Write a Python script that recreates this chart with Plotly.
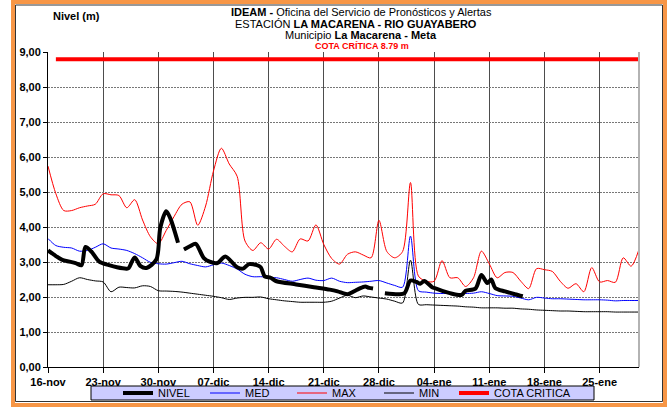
import pandas as pd
import plotly.graph_objects as go

# --- Series data -----------------------------------------------------------
INICIO = pd.Timestamp("2012-11-16")
COTA = 8.79

# daily climatology-type series, one value per day from 16-nov (day 0) to 30-ene (day 75)
dias = list(range(76))
maximo = [5.74, 4.95, 4.47, 4.47, 4.55, 4.60, 4.65, 4.95, 4.92, 4.90,
          4.55, 4.78, 4.20, 3.72, 3.52, 3.90, 4.30, 4.65, 4.72, 4.05,
          4.60, 5.60, 6.25, 5.80, 5.45, 3.60, 3.33, 3.55, 3.37, 3.65,
          3.45, 3.29, 3.66, 3.60, 4.06, 3.50, 3.10, 2.94, 3.22, 3.29,
          3.20, 3.12, 4.19, 3.30, 3.12, 3.30, 5.27, 2.60, 2.45, 2.45,
          3.04, 2.55, 2.55, 2.30, 2.55, 3.31, 2.95, 2.55, 2.70, 2.70,
          2.45, 2.24, 2.81, 2.78, 2.73, 2.45, 2.25, 2.38, 2.15, 2.84,
          2.43, 2.47, 2.42, 3.12, 2.88, 3.36]
medio = [3.67, 3.47, 3.42, 3.40, 3.31, 3.33, 3.42, 3.52, 3.40, 3.37,
         3.33, 3.24, 3.12, 2.99, 2.95, 2.94, 2.98, 3.02, 2.95, 2.90,
         2.86, 2.92, 2.97, 2.90, 2.80, 2.65, 2.58, 2.58, 2.56, 2.55,
         2.50, 2.45, 2.50, 2.54, 2.48, 2.47, 2.54, 2.45, 2.41, 2.42,
         2.43, 2.45, 2.47, 2.40, 2.33, 2.28, 3.74, 2.18, 2.14, 2.11,
         2.10, 2.10, 2.09, 2.10, 2.11, 2.15, 2.10, 2.04, 2.03, 2.02,
         1.97, 1.92, 1.99, 1.97, 1.95, 1.95, 1.94, 1.93, 1.92, 1.92,
         1.92, 1.91, 1.89, 1.90, 1.90, 1.90]
minimo = [2.35, 2.35, 2.36, 2.45, 2.55, 2.50, 2.46, 2.43, 2.15, 2.28,
          2.27, 2.26, 2.32, 2.30, 2.18, 2.17, 2.16, 2.14, 2.11, 2.08,
          2.05, 2.02, 1.98, 1.93, 1.97, 1.99, 1.99, 2.00, 1.95, 1.92,
          1.89, 1.87, 1.85, 1.85, 1.85, 1.85, 1.88, 1.97, 2.05, 1.98,
          2.03, 2.00, 1.97, 1.94, 1.88, 1.83, 3.05, 1.79, 1.78, 1.77,
          1.76, 1.75, 1.74, 1.72, 1.71, 1.69, 1.69, 1.69, 1.68, 1.68,
          1.66, 1.65, 1.63, 1.62, 1.61, 1.60, 1.60, 1.59, 1.58, 1.58,
          1.58, 1.58, 1.57, 1.57, 1.57, 1.57]

# observed level, irregular readings (day offset from 16-nov); None = no data
nivel_dia = [0, 0.75, 1.75, 3.5, 4.25, 4.75, 5.5, 6.5, 7.75, 8.75,
             10, 10.25, 11, 11.75, 12.5, 13.75, 14.25, 15, 15.5, 16.5,
             16.8,
             17.25, 18, 18.75, 19.75, 20.5, 21.5, 22.5, 24, 24.75, 25.5,
             26.5, 27, 27.5, 28.25, 29, 31.5, 33.75, 35.75, 36.75, 38,
             39, 39.5, 40.25, 40.75, 41.25,
             42,
             42.75, 44.5, 45.25, 46, 46.75, 47.25, 47.75, 48.75, 49.25, 51,
             52.5, 53, 54.25, 55, 55.75, 56.25, 56.75, 58, 59.25, 60.25]
nivel = [3.33, 3.21, 3.07, 2.97, 2.91, 3.43, 3.30, 3.01, 2.91, 2.85,
         2.81, 2.83, 3.13, 2.88, 2.83, 3.07, 3.98, 4.45, 4.26, 3.55,
         None,
         3.36, 3.45, 3.52, 3.12, 3.01, 2.97, 3.16, 2.85, 2.81, 2.94,
         2.91, 2.85, 2.59, 2.55, 2.45, 2.36, 2.28, 2.21, 2.16, 2.08,
         2.18, 2.24, 2.30, 2.26, 2.24,
         None,
         2.11, 2.08, 2.11, 2.47, 2.43, 2.38, 2.46, 2.28, 2.24, 2.11,
         2.06, 2.18, 2.24, 2.63, 2.40, 2.50, 2.26, 2.16, 2.08, 2.02]

etiquetas_x = ["16-nov", "23-nov", "30-nov", "07-dic", "14-dic", "21-dic",
               "28-dic", "04-ene", "11-ene", "18-ene", "25-ene"]

# --- Derived dates -----------------------------------------------------------
fechas = INICIO + pd.to_timedelta(dias, unit="D")
nivel_fechas = INICIO + pd.to_timedelta(nivel_dia, unit="D")
tick_fechas = [INICIO + pd.Timedelta(days=7 * k) for k in range(len(etiquetas_x))]
fin = INICIO + pd.Timedelta(days=dias[-1])

# --- Page geometry (pixels) -------------------------------------------------
W, H = 667, 407
ML, MR, MT, MB = 48, 28, 52, 40
PW, PH = W - ML - MR, H - MT - MB


def px(x):
    return (x - ML) / PW


def py(y):
    return (H - MB - y) / PH


FONT = "Liberation Sans, Arial, sans-serif"

fig = go.Figure()

fig.add_trace(go.Scatter(x=fechas, y=medio, name="MED", mode="lines",
                         line=dict(color="#0000FF", width=1, shape="spline", smoothing=0.8),
                         legendrank=2))
fig.add_trace(go.Scatter(x=fechas, y=maximo, name="MAX", mode="lines",
                         line=dict(color="#FF0000", width=1, shape="spline", smoothing=0.8),
                         legendrank=3))
fig.add_trace(go.Scatter(x=fechas, y=minimo, name="MIN", mode="lines",
                         line=dict(color="#000000", width=1, shape="spline", smoothing=0.8),
                         legendrank=4))
fig.add_trace(go.Scatter(x=nivel_fechas, y=nivel, name="NIVEL", mode="lines",
                         connectgaps=False,
                         line=dict(color="#000000", width=4, shape="spline", smoothing=0.8),
                         legendrank=1))
fig.add_trace(go.Scatter(x=[INICIO + pd.Timedelta(days=1), fin], y=[COTA, COTA],
                         name="COTA CRITICA", mode="lines", legend="legend2",
                         line=dict(color="#FF0000", width=4)))

leyenda = dict(orientation="h", yanchor="middle", xanchor="left",
               bgcolor="rgba(0,0,0,0)", borderwidth=0, itemwidth=30,
               font=dict(family=FONT, size=11, color="black"))

fig.update_layout(
    width=W, height=H,
    margin=dict(l=ML, r=MR, t=MT, b=MB, autoexpand=False),
    paper_bgcolor="white", plot_bgcolor="white",
    separators=",.",
    font=dict(family=FONT, size=11, color="black"),
    showlegend=True,
    legend=dict(leyenda, x=px(118), y=py(393), entrywidth=42, entrywidthmode="pixels"),
    legend2=dict(leyenda, x=px(454), y=py(393)),
)

fig.update_xaxes(
    type="date", range=[INICIO, fin],
    tickvals=tick_fechas, ticktext=etiquetas_x,
    tickfont=dict(family=FONT, size=11, color="black", weight="bold"),
    ticks="outside", ticklen=5, tickcolor="black",
    showline=True, linecolor="black", linewidth=1,
    showgrid=True, gridcolor="#4d4d4d", gridwidth=1,
    zeroline=False,
)
fig.update_yaxes(
    range=[0, 9], dtick=1, tickformat=".2f",
    tickfont=dict(family=FONT, size=11, color="black", weight="bold"),
    ticks="outside", ticklen=4, tickcolor="black",
    showline=True, linecolor="black", linewidth=1,
    showgrid=True, gridcolor="#777777", gridwidth=1, griddash="2px,1px",
    zeroline=False,
)

shapes = [
    # outer orange frame and inner thin rule
    dict(type="rect", xref="paper", yref="paper", x0=px(13), x1=px(665), y0=py(2), y1=py(405),
         line=dict(color="#F79646", width=4), fillcolor="rgba(0,0,0,0)", layer="below"),
    dict(type="rect", xref="paper", yref="paper", x0=px(15.5), x1=px(662.5), y0=py(5), y1=py(401.5),
         line=dict(color="#333333", width=1), fillcolor="rgba(0,0,0,0)", layer="below"),
    # right edge of the plotting area
    dict(type="line", xref="paper", yref="paper", x0=1, x1=1, y0=0, y1=1,
         line=dict(color="#b3b3b3", width=2)),
    # legend panel
    dict(type="rect", xref="paper", yref="paper", x0=px(91), x1=px(594), y0=py(386), y1=py(400),
         line=dict(color="black", width=1), fillcolor="#CCCCFF", layer="below"),
]
fig.update_layout(shapes=shapes)

annotations = [
    dict(text="<b>Nivel (m)</b>", x=px(76), y=py(16)),
    dict(text="<b>IDEAM -</b> Oficina del Servicio de Pronósticos y Alertas", x=px(361), y=py(12)),
    dict(text="ESTACIÓN <b>LA MACARENA - RIO GUAYABERO</b>", x=px(356), y=py(24)),
    dict(text="Municipio <b>La Macarena - Meta</b>", x=px(361), y=py(35)),
    dict(text=f"<b>COTA CRÍTICA {COTA:.2f} m</b>", x=px(362), y=py(46),
         font=dict(family=FONT, size=9, color="#FF0000")),
]
for a in annotations:
    a.setdefault("font", dict(family=FONT, size=11, color="black"))
    fig.add_annotation(xref="paper", yref="paper", xanchor="center", yanchor="middle",
                       showarrow=False, **a)

fig.write_html("out.html")
